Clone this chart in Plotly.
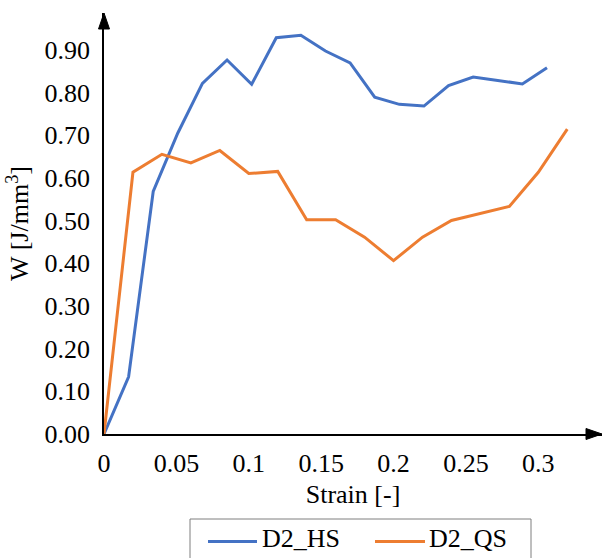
import plotly.graph_objects as go

# Strain energy density W versus strain for the two D2 loading cases
hs_strain = [0.000, 0.017, 0.034, 0.051, 0.068, 0.085, 0.102, 0.119, 0.136, 0.153,
             0.170, 0.187, 0.204, 0.221, 0.238, 0.255, 0.272, 0.289, 0.306]
hs_w = [0.000, 0.134, 0.568, 0.705, 0.821, 0.876, 0.819, 0.928, 0.934, 0.897,
        0.869, 0.789, 0.772, 0.768, 0.816, 0.836, 0.828, 0.820, 0.858]

qs_strain = [0.00, 0.02, 0.04, 0.06, 0.08, 0.10, 0.12, 0.14, 0.16,
             0.18, 0.20, 0.22, 0.24, 0.26, 0.28, 0.30, 0.32]
qs_w = [0.000, 0.613, 0.655, 0.635, 0.664, 0.610, 0.615, 0.502, 0.502,
        0.461, 0.406, 0.461, 0.500, 0.516, 0.533, 0.613, 0.714]

x_ticks = [0, 0.05, 0.10, 0.15, 0.20, 0.25, 0.30]
x_tick_labels = ["0", "0.05", "0.1", "0.15", "0.2", "0.25", "0.3"]
y_ticks = [0.0, 0.1, 0.2, 0.3, 0.4, 0.5, 0.6, 0.7, 0.8, 0.9]
y_tick_labels = ["0.00", "0.10", "0.20", "0.30", "0.40", "0.50", "0.60", "0.70", "0.80", "0.90"]

series_names = ["D2_HS", "D2_QS"]
series_colors = ["#4472C4", "#ED7D31"]

FONT = "Liberation Serif"
W, H = 609, 558
ML, MR, MT, MB = 104, 7, 13, 124
PW, PH = W - ML - MR, H - MT - MB


def px(x):
    return (x - ML) / PW


def py(y):
    return (MT + PH - y) / PH


fig = go.Figure()
fig.add_trace(go.Scatter(x=hs_strain, y=hs_w, mode="lines", name=series_names[0],
                         line=dict(color=series_colors[0], width=3)))
fig.add_trace(go.Scatter(x=qs_strain, y=qs_w, mode="lines", name=series_names[1],
                         line=dict(color=series_colors[1], width=3)))

# arrowheads at the ends of both axes
aw, al = 5.5, 16
arrow_y = f"M 0,1 L {-aw/PW},{1-al/PH} L {aw/PW},{1-al/PH} Z"
arrow_x = f"M 1,0 L {1-al/PW},{aw/PH} L {1-al/PW},{-aw/PH} Z"
for p in (arrow_y, arrow_x):
    fig.add_shape(type="path", path=p, xref="paper", yref="paper",
                  fillcolor="#000", line=dict(color="#000", width=1))

# legend box below the plot, drawn by hand
fig.add_shape(type="rect", xref="paper", yref="paper",
              x0=px(190), x1=px(531), y0=py(519), y1=py(600),
              line=dict(color="#7f7f7f", width=1), fillcolor="rgba(0,0,0,0)")
for (x0, x1, tx), name, color in zip([(208, 257, 260), (375, 425, 427)],
                                     series_names, series_colors):
    fig.add_shape(type="line", xref="paper", yref="paper",
                  x0=px(x0), x1=px(x1), y0=py(541.5), y1=py(541.5),
                  line=dict(color=color, width=3))
    fig.add_annotation(text=name, xref="paper", yref="paper",
                       x=px(tx), y=py(538), xanchor="left", yanchor="middle",
                       showarrow=False,
                       font=dict(family=FONT, size=26, color="#000"))

fig.update_layout(
    width=W, height=H,
    margin=dict(l=ML, r=MR, t=MT, b=MB, autoexpand=False),
    paper_bgcolor="white", plot_bgcolor="white",
    font=dict(family=FONT, size=26, color="#000"),
    showlegend=False,
    xaxis=dict(range=[0, 0.344], showgrid=False, zeroline=False,
               showline=True, linecolor="#000", linewidth=1.5,
               tickmode="array", tickvals=x_ticks, ticktext=x_tick_labels,
               ticks="", ticklabelstandoff=5,
               tickfont=dict(family=FONT, size=26, color="#000"),
               title=dict(text="Strain [-]", standoff=8,
                          font=dict(family=FONT, size=26, color="#000"))),
    yaxis=dict(range=[0, 0.986], showgrid=False, zeroline=False,
               showline=True, linecolor="#000", linewidth=1.5,
               tickmode="array", tickvals=y_ticks, ticktext=y_tick_labels,
               ticks="", ticklabelstandoff=7,
               tickfont=dict(family=FONT, size=26, color="#000"),
               title=dict(text="W [J/mm<sup>3</sup>]", standoff=8,
                          font=dict(family=FONT, size=26, color="#000"))),
)

fig.write_html("out.html")
